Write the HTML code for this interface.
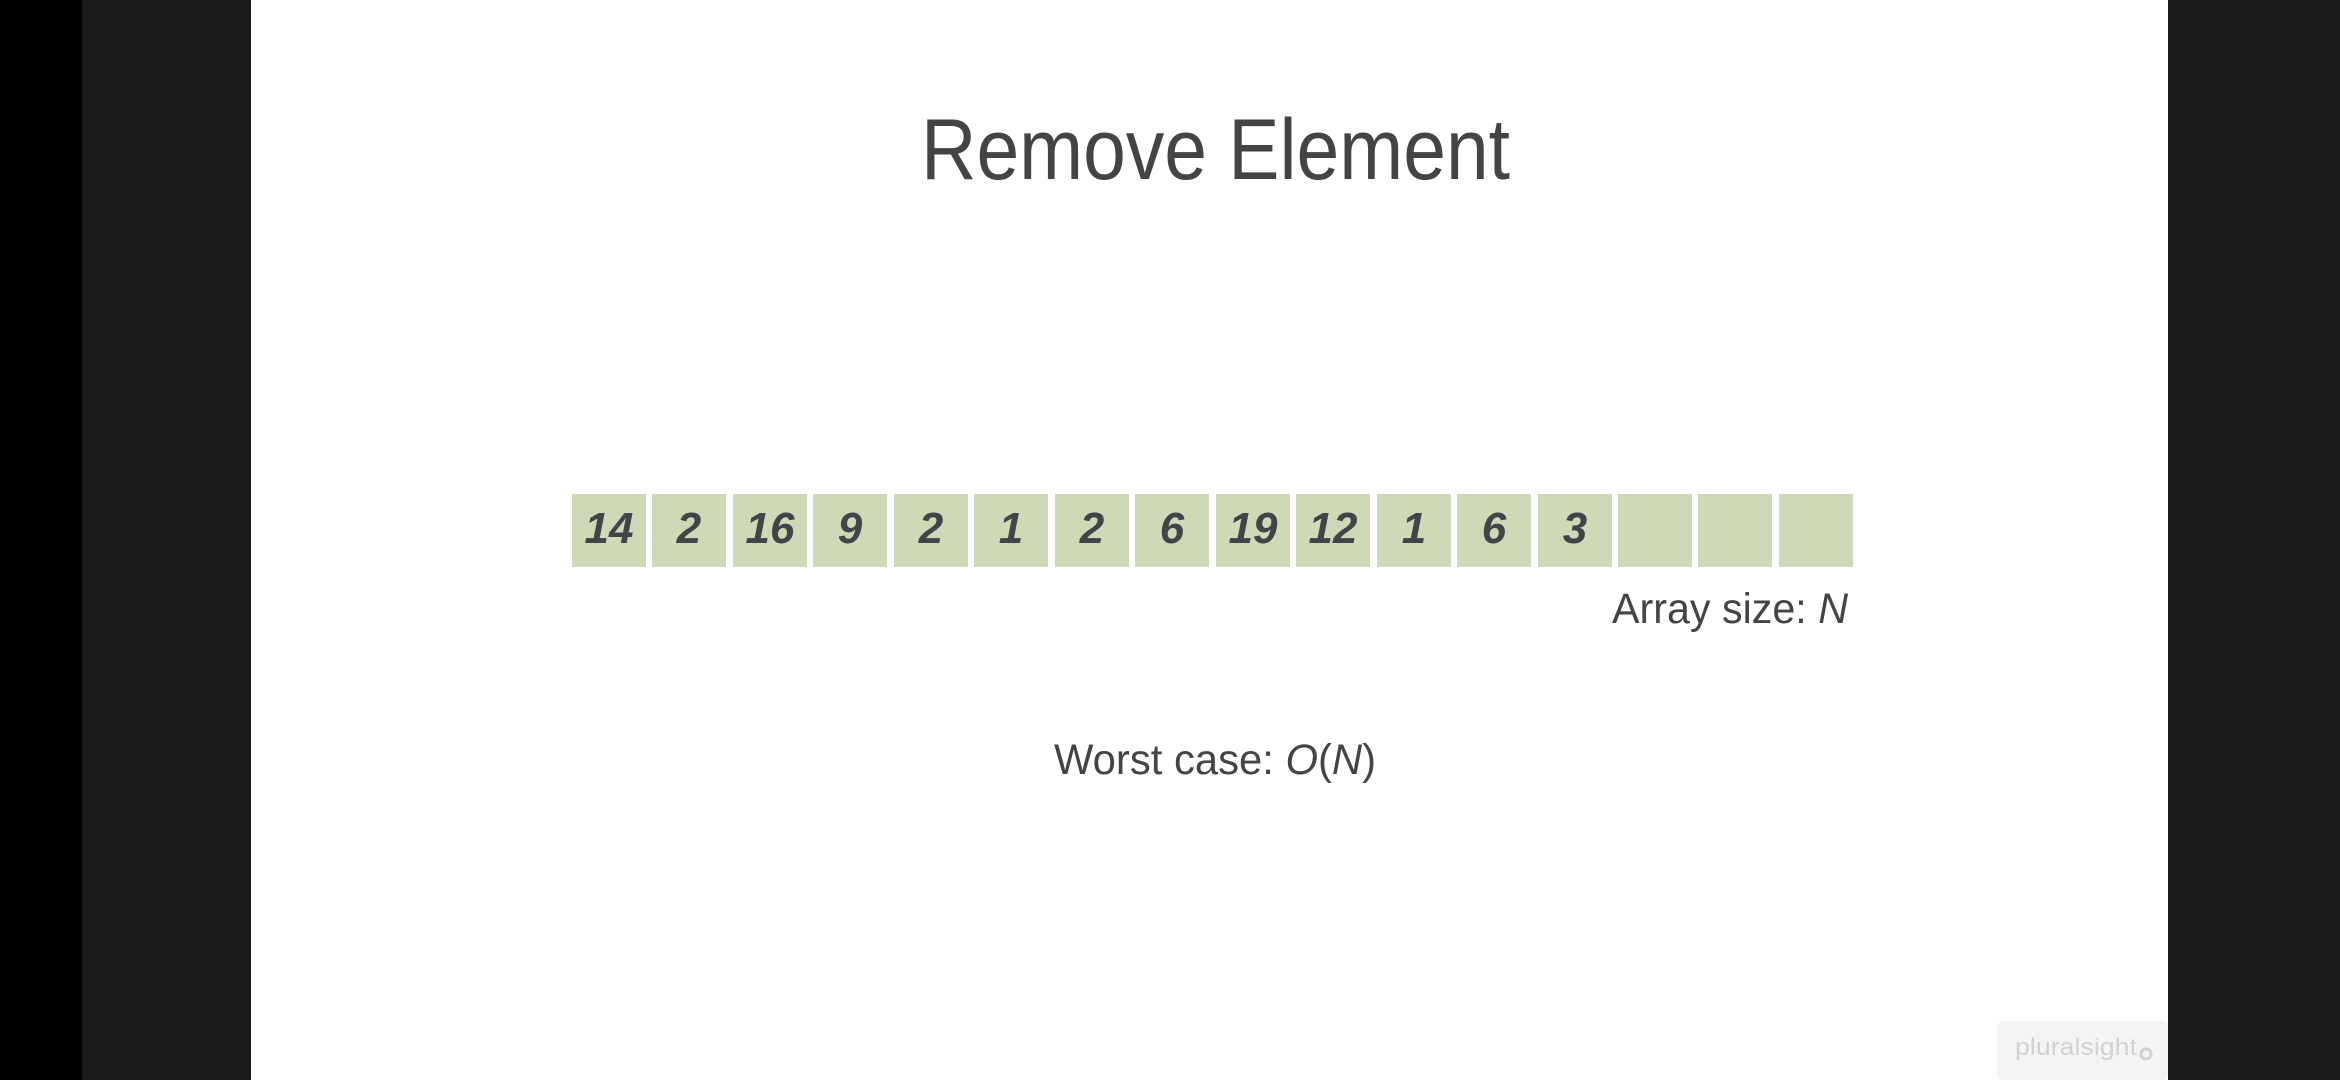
<!DOCTYPE html>
<html><head><meta charset="utf-8"><style>
html,body{margin:0;padding:0;width:2340px;height:1080px;overflow:hidden;background:#1b1b1b}
</style></head><body>
<svg width="2340" height="1080" xmlns="http://www.w3.org/2000/svg" style="position:absolute;left:0;top:0">
<rect x="0" y="0" width="82" height="1080" fill="#000"/>
<rect x="82" y="0" width="169" height="1080" fill="#1b1b1b"/>
<rect x="2168" y="0" width="172" height="1080" fill="#1b1b1b"/>
<rect x="251" y="0" width="1917" height="1080" fill="#fff"/>
<text x="921" y="179" font-family="Liberation Sans, sans-serif" font-size="86" fill="#444" textLength="589" lengthAdjust="spacingAndGlyphs">Remove Element</text>
<g fill="#cdd9b7">
<rect x="572" y="494" width="74" height="73"/><rect x="652" y="494" width="74" height="73"/><rect x="733" y="494" width="74" height="73"/><rect x="813" y="494" width="74" height="73"/>
<rect x="894" y="494" width="74" height="73"/><rect x="974" y="494" width="74" height="73"/><rect x="1055" y="494" width="74" height="73"/><rect x="1135" y="494" width="74" height="73"/>
<rect x="1216" y="494" width="74" height="73"/><rect x="1296" y="494" width="74" height="73"/><rect x="1377" y="494" width="74" height="73"/><rect x="1457" y="494" width="74" height="73"/>
<rect x="1538" y="494" width="74" height="73"/><rect x="1618" y="494" width="74" height="73"/><rect x="1698" y="494" width="74" height="73"/><rect x="1779" y="494" width="74" height="73"/>
</g>
<g font-family="Liberation Sans, sans-serif" font-size="44" font-weight="bold" font-style="italic" fill="#404548" text-anchor="middle">
<text x="609" y="543">14</text><text x="689" y="543">2</text><text x="770" y="543">16</text><text x="850" y="543">9</text>
<text x="931" y="543">2</text><text x="1011" y="543">1</text><text x="1092" y="543">2</text><text x="1172" y="543">6</text>
<text x="1253" y="543">19</text><text x="1333" y="543">12</text><text x="1414" y="543">1</text><text x="1494" y="543">6</text>
<text x="1575" y="543">3</text>
</g>
<text x="1612" y="623" font-family="Liberation Sans, sans-serif" font-size="43" fill="#444" textLength="236" lengthAdjust="spacingAndGlyphs">Array size: <tspan font-style="italic">N</tspan></text>
<text x="1054" y="774" font-family="Liberation Sans, sans-serif" font-size="43" fill="#444" textLength="322" lengthAdjust="spacingAndGlyphs">Worst case: <tspan font-style="italic">O</tspan>(<tspan font-style="italic">N</tspan>)</text>
<rect x="1997" y="1021" width="171" height="59" rx="6" fill="#f4f4f4"/>
<text x="2015" y="1055" font-family="Liberation Sans, sans-serif" font-size="24" fill="#d2d2d2" textLength="122" lengthAdjust="spacingAndGlyphs">pluralsight</text>
<circle cx="2146" cy="1054" r="5" fill="none" stroke="#d2d2d2" stroke-width="3"/>
</svg>
</body></html>
